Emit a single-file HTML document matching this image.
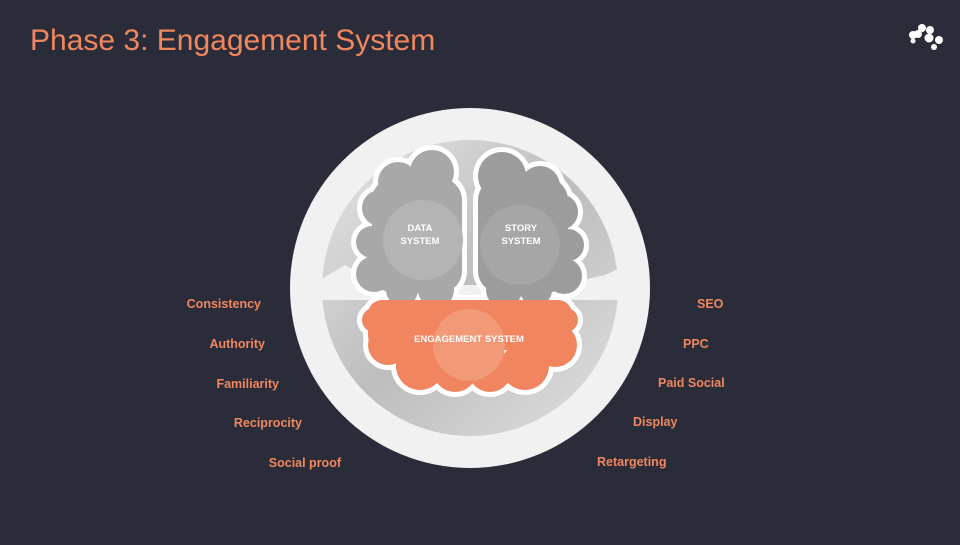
<!DOCTYPE html>
<html><head><meta charset="utf-8"><style>
body{margin:0;width:960px;height:540px;background:#2b2c3a;overflow:hidden;font-family:"Liberation Sans",sans-serif}
</style></head><body>
<svg width="960" height="540" viewBox="0 0 960 540" xmlns="http://www.w3.org/2000/svg">
<defs>
<linearGradient id="ring" x1="0" y1="0" x2="1" y2="1">
<stop offset="0" stop-color="#e6e6e6"/><stop offset="0.5" stop-color="#bdbdbd"/><stop offset="1" stop-color="#e0e0e0"/>
</linearGradient>
<g id="L">
<rect x="372" y="178" width="90" height="115" rx="22"/>
<circle cx="398" cy="182" r="20"/><circle cx="432" cy="172" r="22"/><circle cx="380" cy="208" r="18"/><circle cx="372" cy="242" r="16"/><circle cx="374" cy="274" r="18"/><circle cx="402" cy="290" r="16"/><circle cx="436" cy="290" r="18"/><circle cx="450" cy="200" r="12"/>
</g>
<g id="R">
<rect x="478" y="178" width="90" height="115" rx="22"/>
<circle cx="502" cy="176" r="24"/><circle cx="540" cy="186" r="20"/><circle cx="560" cy="212" r="18"/><circle cx="568" cy="245" r="16"/><circle cx="564" cy="276" r="18"/><circle cx="536" cy="290" r="16"/><circle cx="504" cy="290" r="18"/><circle cx="490" cy="205" r="12"/>
</g>
<g id="O">
<rect x="368" y="300" width="204" height="50" rx="14"/>
<circle cx="388" cy="345" r="20"/><circle cx="420" cy="366" r="24"/><circle cx="455" cy="370" r="22"/><circle cx="490" cy="370" r="22"/><circle cx="525" cy="366" r="24"/><circle cx="555" cy="345" r="22"/><circle cx="566" cy="320" r="12"/><circle cx="374" cy="320" r="12"/>
</g>
</defs>
<text x="30" y="50" font-size="30" fill="#f0875f" font-family="Liberation Sans, sans-serif">Phase 3: Engagement System</text>
<g fill="#fff">
<circle cx="913" cy="35" r="4"/><circle cx="922" cy="28" r="4"/><circle cx="930" cy="30" r="4"/><circle cx="918" cy="34" r="4"/><circle cx="929" cy="38" r="4.5"/><circle cx="939" cy="40" r="4"/><circle cx="934" cy="47" r="3"/><circle cx="913" cy="41" r="2.5"/>
</g>
<circle cx="470" cy="288" r="180" fill="#f1f1f1"/>
<circle cx="470" cy="288" r="148" fill="url(#ring)"/>
<path d="M320 280 L345 265 L380 285 L560 285 L605 275 L620 268 L625 300 L320 300Z" fill="#f1f1f1"/>
<g fill="#fff" stroke="#fff" stroke-width="10" stroke-linejoin="round">
<use href="#L"/><use href="#R"/><use href="#O"/>
</g>
<use href="#L" fill="#a8a8a8"/>
<use href="#R" fill="#9c9c9c"/>
<use href="#O" fill="#f0855f"/>
<circle cx="423" cy="240" r="40" fill="#b4b4b4"/>
<circle cx="520" cy="245" r="40" fill="#a6a6a6"/>
<circle cx="469" cy="345" r="36" fill="#f29a78"/>
<g fill="#fff" font-weight="bold" text-anchor="middle" font-family="Liberation Sans, sans-serif">
<text x="420" y="231" font-size="9.5">DATA</text><text x="420" y="244" font-size="9.5">SYSTEM</text>
<text x="521" y="231" font-size="9.5">STORY</text><text x="521" y="244" font-size="9.5">SYSTEM</text>
<text x="469" y="342" font-size="9.5">ENGAGEMENT SYSTEM</text>
</g>
<g fill="#f0875f" font-weight="bold" font-size="12.5" font-family="Liberation Sans, sans-serif">
<g text-anchor="end">
<text x="261" y="308">Consistency</text><text x="265" y="348">Authority</text><text x="279" y="388">Familiarity</text><text x="302" y="427">Reciprocity</text><text x="341" y="467">Social proof</text>
</g>
<g>
<text x="697" y="308">SEO</text><text x="683" y="348">PPC</text><text x="658" y="387">Paid Social</text><text x="633" y="426">Display</text><text x="597" y="466">Retargeting</text>
</g>
</g>
</svg>
</body></html>
